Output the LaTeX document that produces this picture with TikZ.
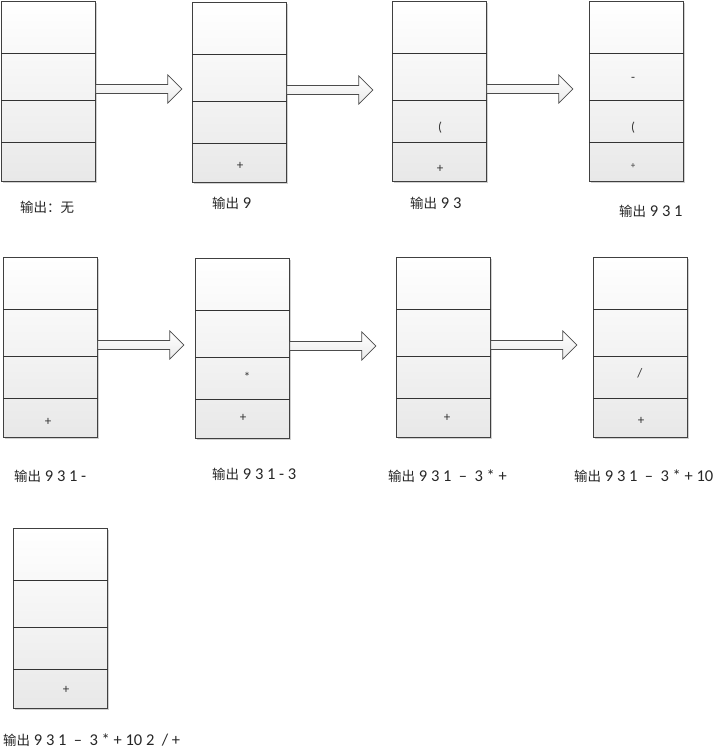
\documentclass[tikz,border=0pt]{standalone}
\usepackage{fontspec}
\setmainfont{Carlito}
\newfontfamily\cjk{Noto Sans CJK SC}
\usetikzlibrary{calc,shadows}
\tikzset{
  x=1pt, y=-1pt,
  stackbox/.style={draw=black!75, line width=0.8pt, minimum width=94pt, minimum height=180pt,
    anchor=north west, inner sep=0pt, top color=white, bottom color=black!9,
    general shadow={fill=black!18, shadow xshift=1.3pt, shadow yshift=-1.3pt}},
  divider/.style={draw=black!80, line width=0.8pt},
  cell/.style={font=\fontsize{13}{15}\selectfont, text=black!80, inner sep=0pt},
  smallcell/.style={font=\fontsize{9}{11}\selectfont, text=black!80, inner sep=0pt},
  lbl/.style={anchor=west, font=\fontsize{16.5}{19}\selectfont, text=black!85, inner sep=0pt},
  blockarrow/.style={draw=black!70, line width=0.7pt, top color=white, bottom color=black!8},
}
\newcommand\cjkout{{\fontsize{13.5}{16}\selectfont\cjk 输出}}
\newcommand\stackdividers[1]{%
  \foreach \d in {52,99,141}{\draw[divider] ($(#1.north west)+(0,\d)$) -- ($(#1.north east)+(0,\d)$);}}
\newcommand\flowarrow[2]{%
  \coordinate (#1s) at ($(#1.north east)+(0,88)$);
  \coordinate (#2) at ($(#1s)+(86,0)$);
  \draw[blockarrow] ($(#1s)+(0,-4.5)$) -- ($(#2)+(-14,-4.5)$) -- ($(#2)+(-14,-14)$) -- (#2)
    -- ($(#2)+(-14,14)$) -- ($(#2)+(-14,4.5)$) -- ($(#1s)+(0,4.5)$) -- cycle;}
\begin{document}
\begin{tikzpicture}
\useasboundingbox (0,0) rectangle (715,750);
% boxes
\node[stackbox] (b1) at (1,1) {};
\node[stackbox] (b2) at (192,2) {};
\node[stackbox] (b3) at (392,1) {};
\node[stackbox] (b4) at (589,1) {};
\node[stackbox] (b5) at (3,257) {};
\node[stackbox] (b6) at (195,258) {};
\node[stackbox] (b7) at (396,257) {};
\node[stackbox] (b8) at (593,257) {};
\node[stackbox] (b9) at (13,528) {};
\foreach \b in {b1,b2,b3,b4,b5,b6,b7,b8,b9}{\stackdividers{\b}}
% arrows
\flowarrow{b1}{t1}
\flowarrow{b2}{t2}
\flowarrow{b3}{t3}
\flowarrow{b5}{t5}
\flowarrow{b6}{t6}
\flowarrow{b7}{t7}
% cell contents
\node[cell] (c2a) at ($(b2.north west)+(48,164)$) {+};
\node[cell] (c3a) at ($(b3.north west)+(48,127)$) {(};
\node[cell] (c3b) at ($(b3.north west)+(48,168)$) {+};
\node[cell] (c4a) at ($(b4.north west)+(44,78)$) {-};
\node[cell] (c4b) at ($(b4.north west)+(44,127)$) {(};
\node[smallcell] (c4c) at ($(b4.north west)+(44,165)$) {+};
\node[cell] (c5a) at ($(b5.north west)+(45,165)$) {+};
\node[cell] (c6a) at ($(b6.north west)+(52,119)$) {*};
\node[cell] (c6b) at ($(b6.north west)+(48,160)$) {+};
\node[cell] (c7a) at ($(b7.north west)+(51,161)$) {+};
\node[cell] (c8a) at ($(b8.north west)+(47,116)$) {/};
\node[cell] (c8b) at ($(b8.north west)+(48,164)$) {+};
\node[cell] (c9a) at ($(b9.north west)+(53,162)$) {+};
% labels
\node[lbl] (l1) at (20,207) {{\fontsize{13.5}{16}\selectfont\cjk 输出：无}};
\node[lbl] (l2) at (212,203) {\cjkout{} 9};
\node[lbl] (l3) at (410,203) {\cjkout{} 9 3};
\node[lbl] (l4) at (619,211) {\cjkout{} 9 3 1};
\node[lbl] (l5) at (14,476) {\cjkout{} 9 3 1 -};
\node[lbl] (l6) at (212,474) {\cjkout{} 9 3 1 - 3};
\node[lbl] (l7) at (388,476) {\cjkout{} 9 3 1 ~–~ 3 * +};
\node[lbl] (l8) at (574,476) {\cjkout{} 9 3 1 ~–~ 3 * + 10};
\node[lbl] (l9) at (3,740) {\cjkout{} 9 3 1 ~–~ 3 * + 10 2 ~/ +};
\end{tikzpicture}
\end{document}
